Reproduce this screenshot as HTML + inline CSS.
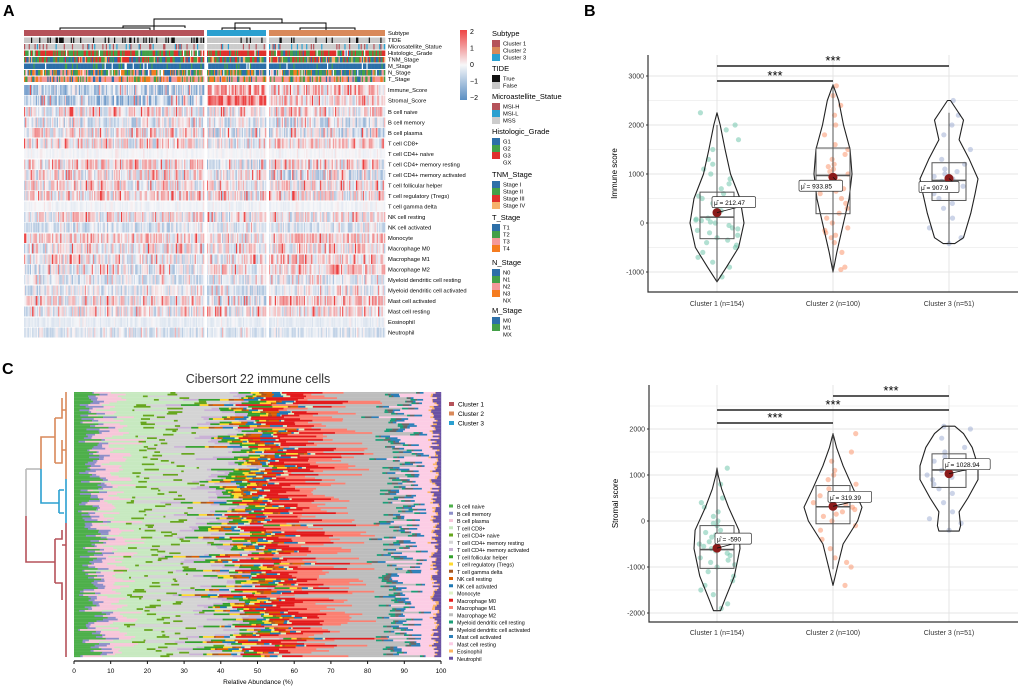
<!DOCTYPE html>
<html><head><meta charset="utf-8"><style>
body{margin:0;background:#fff}
svg{display:block;font-family:"Liberation Sans",Arial,sans-serif}
</style></head><body>
<svg id="fig" width="1020" height="686" viewBox="0 0 1020 686" xmlns="http://www.w3.org/2000/svg">
<text x="3" y="16" font-size="16" font-weight="bold">A</text>
<text x="584" y="16" font-size="16" font-weight="bold">B</text>
<text x="2" y="374" font-size="16" font-weight="bold">C</text>
<g id="pa"></g>
<g id="pb"></g>
<g id="pd"></g>
<g id="pc"></g>
</svg>
<script>
// ---------- DATA ----------
const clusterNames=["Cluster 1","Cluster 2","Cluster 3"];
const clusterN=[154,100,51];
const clusterColors=["#b5525a","#d9895a","#2ba0d0"];
const heatRows=["Immune_Score","Stromal_Score","B cell naive","B cell memory","B cell plasma","T cell CD8+","T cell CD4+ naive","T cell CD4+ memory resting","T cell CD4+ memory activated","T cell follicular helper","T cell regulatory (Tregs)","T cell gamma delta","NK cell resting","NK cell activated","Monocyte","Macrophage M0","Macrophage M1","Macrophage M2","Myeloid dendritic cell resting","Myeloid dendritic cell activated","Mast cell activated","Mast cell resting","Eosinophil","Neutrophil"];
const rowMeanC1=[-0.6,-0.8,0.1,-0.3,0.1,0,-0.05,0.3,0.1,0,0.2,-0.1,0.1,-0.4,0.3,0,0,-0.2,-0.3,-0.3,0.1,0,-0.2,-0.3];
const rowMeanC2=[0.3,0.2,0.2,-0.4,-0.3,0.3,-0.05,0.2,-0.3,0.1,0.1,-0.1,0,-0.3,0.3,0.1,0.2,0.3,-0.3,-0.2,0.5,0.1,-0.2,-0.3];
const rowMeanC3=[0.9,1.3,-0.1,-0.2,-0.2,-0.1,-0.05,-0.2,-0.2,0,-0.1,-0.1,-0.1,-0.3,0,0.1,0.1,0.1,-0.3,-0.4,-0.3,0,-0.2,-0.3];
const rowSpread=[0.9,0.9,0.9,0.7,0.9,0.8,0.12,0.9,0.9,0.8,0.9,0.12,0.8,0.5,0.8,0.8,0.8,0.8,0.6,0.6,0.8,0.8,0.15,0.4];
const colorbarTicks=[2,1,0,-1,-2];
const annoNames=["Subtype","TIDE","Microsatellite_Statue","Histologic_Grade","TNM_Stage","M_Stage","N_Stage","T_Stage"];
const tideLevels=["True","False"],tideColors=["#111111","#c8c8c8"];
const msiLevels=["MSI-H","MSI-L","MSS"],msiColors=["#b5525a","#2ba0d0","#cccccc"];
const gradeLevels=["G1","G2","G3","GX"],gradeColors=["#2d6fa8","#44a048","#e0302c","#ffffff"];
const tnmLevels=["Stage I","Stage II","Stage III","Stage IV"],tnmColors=["#2d6fa8","#44a048","#e0302c","#f6b26b"];
const tLevels=["T1","T2","T3","T4"],tColors=["#2d6fa8","#44a048","#f4999a","#f57c20"];
const nLevels=["N0","N1","N2","N3","NX"],nColors=["#2d6fa8","#44a048","#f4999a","#f57c20","#ffffff"];
const mLevels=["M0","M1","MX"],mColors=["#2d6fa8","#44a048","#ffffff"];
const tideProb=[[0.3,0.7],[0.15,0.85],[0.1,0.9]];
const msiProb=[[0.12,0.1,0.78],[0.12,0.1,0.78],[0.05,0.05,0.9]];
const gradeProb=[[0.05,0.5,0.4,0.05],[0.05,0.4,0.5,0.05],[0.02,0.2,0.75,0.03]];
const tnmProb=[[0.3,0.3,0.3,0.1],[0.3,0.3,0.3,0.1],[0.3,0.3,0.3,0.1]];
const mProb=[[0.85,0.1,0.05],[0.85,0.1,0.05],[0.85,0.1,0.05]];
const nProb=[[0.35,0.3,0.15,0.15,0.05],[0.35,0.3,0.15,0.15,0.05],[0.35,0.3,0.15,0.15,0.05]];
const tProb=[[0.1,0.2,0.5,0.2],[0.1,0.2,0.5,0.2],[0.05,0.15,0.6,0.2]];

// immune panel
const immQ1=[-320,190,460],immMed=[120,970,870],immQ3=[630,1530,1230];
const immWlo=[-1200,-1000,-420],immWhi=[2000,2820,2250];
const immMean=[212.47,933.85,907.9];
const immVioLevels=[[-1200,-900,-500,0,500,1000,1500,2000,2250],[-1000,-600,0,500,1000,1500,2000,2500,2820],[-420,-300,200,600,900,1300,1700,2100,2500]];
const immVioDens=[[0,0.35,0.8,1,0.85,0.5,0.3,0.12,0],[0,0.2,0.55,0.85,1,0.9,0.55,0.3,0],[0.2,0.5,0.75,0.9,1,0.7,0.35,0.5,0.05]];
const immVioMax=[27,19,29];
const immPts=[[-1100,-900,-800,-700,-600,-500,-450,-400,-300,-250,-200,-150,-100,-50,0,20,50,80,100,150,200,250,300,350,400,450,500,550,600,700,800,900,1000,1100,1200,1300,1500,1700,1900,2000,2250,-350,-120,60,180],[-950,-900,-600,-400,-300,-200,-150,-100,0,100,200,300,400,500,600,700,800,900,950,1000,1050,1100,1200,1300,1400,1500,1600,1800,2000,2200,2400,2600,2800,850,1150,650,-250],[-420,-300,-100,100,300,400,500,600,700,800,850,900,950,1000,1100,1200,1300,1500,1800,2000,2200,2500,750,1050]];
const immTicks=[-1000,0,1000,2000,3000];
// stromal panel
const strQ1=[-1030,-60,730],strMed=[-620,310,1110],strQ3=[-100,770,1460];
const strWlo=[-1950,-1050,-220],strWhi=[1150,1900,2060];
const strMean=[-590,319.39,1028.94];
const strVioLevels=[[-1950,-1700,-1200,-600,-200,300,700,1000,1150],[-1400,-1000,-500,0,300,700,1200,1600,1900],[-220,-100,200,500,900,1200,1600,1900,2060]];
const strVioDens=[[0.15,0.35,0.75,1,0.95,0.5,0.2,0.05,0],[0,0.15,0.35,0.85,1,0.7,0.35,0.12,0],[0.35,0.4,0.35,0.65,1,1,0.8,0.5,0.2]];
const strVioMax=[23,29,29];
const strPts=[[-1900,-1800,-1600,-1500,-1400,-1300,-1200,-1100,-1000,-950,-900,-800,-750,-700,-650,-600,-550,-500,-450,-400,-300,-200,-100,0,100,200,300,400,500,800,1150,-850,-350,-250,-50],[-1400,-1000,-900,-800,-600,-400,-200,-100,0,100,200,250,300,350,400,450,500,600,700,800,900,1000,1100,1300,1500,1900,150,550],[-200,-50,50,200,400,600,700,800,900,1000,1100,1200,1300,1400,1500,1600,1800,2000,2060,950,1250]];
const strTicks=[-2000,-1000,0,1000,2000];
// cibersort panel
const cellNames=heatRows.slice(2);
const cellColors=["#4daf4a","#8d8fc9","#f7c6d9","#c7e9c0","#66a61e","#d4d4d4","#cab2d6","#33a02c","#ffd92f","#a6561e","#d95f02","#1f78b4","#ddf1c4","#e31a1c","#fb8072","#bdbdbd","#1b9e77","#666666","#2c7fb8","#fccde5","#fdb462","#6a51a3"];
const cellMeanPct=[5,2,5,12,2,14,3,3,2,1,2,2,1,8,8,16,1,1,1.5,7,0.5,1.5];
const cRowsPerCluster=[70,50,32];
const cOrder=[1,2,0];
const xTicksC=[0,10,20,30,40,50,60,70,80,90,100];

// ---------- HELPERS ----------
const NS="http://www.w3.org/2000/svg";
function mk(parent,tag,attrs,text){const e=document.createElementNS(NS,tag);for(const k in attrs)e.setAttribute(k,attrs[k]);if(text!==undefined)e.textContent=text;parent.appendChild(e);return e;}
function hash(a,b){let h=(a*374761393+b*668265263)>>>0;h=((h^(h>>>13))*1274126177)>>>0;h=(h^(h>>>16))>>>0;return h/4294967296;}
function pick(probs,u){let s=0;for(let i=0;i<probs.length;i++){s+=probs[i];if(u<s)return i;}return probs.length-1;}
function lerp(a,b,t){return Math.round(a+(b-a)*t);}
function valColor(v){v=Math.max(-2,Math.min(2,v));let c0=[247,247,249];let c1=v>=0?[236,64,64]:[78,132,190];let t=Math.abs(v)/2;return `rgb(${lerp(c0[0],c1[0],t)},${lerp(c0[1],c1[1],t)},${lerp(c0[2],c1[2],t)})`;}

// ---------- PANEL A ----------
const pa=document.getElementById('pa');
const blocks=[{cl:0,x:24,w:180},{cl:2,x:207,w:59},{cl:1,x:269,w:116}];
const rowMeans=[rowMeanC1,rowMeanC2,rowMeanC3];
const dg=mk(pa,'g',{stroke:'#000','stroke-width':1,fill:'none'});


mk(dg,'path',{d:'M154,30 V19 H282 V23 M235,30 V23 H326 V30 M60,30 V28 H150 V30 M123,28 V26 H185 V28 M222,30 V28 H250 V30 M300,30 V28 H355 V30'});
const annoY=[30,37.5,44,50.5,57,63.5,70,76.5],annoH=[6,5.5,5.5,5.5,5.5,5.5,5.5,5.5];
const annoDefs=[null,[tideProb,tideColors],[msiProb,msiColors],[gradeProb,gradeColors],[tnmProb,tnmColors],[mProb,mColors],[nProb,nColors],[tProb,tColors]];
blocks.forEach(b=>{
  const n=clusterN[b.cl],cw=b.w/n;
  const st=mk(pa,'rect',{x:b.x,y:annoY[0],width:b.w,height:annoH[0],fill:clusterColors[b.cl]});
  
  
  for(let r=1;r<8;r++){
    const [pr,cols]=annoDefs[r];
    for(let c=0;c<n;c++){
      const k=pick(pr[b.cl],hash(c+b.cl*1000,r*31));
      mk(pa,'rect',{x:(b.x+c*cw).toFixed(2),y:annoY[r],width:(cw+0.3).toFixed(2),height:annoH[r],fill:cols[k]});
    }
  }
  for(let r=0;r<heatRows.length;r++){
    let y,h;
    if(r<2){y=85+r*10.5;h=10;}else{y=107+(r-2)*10.5;h=10;}
    for(let c=0;c<n;c++){
      const u=hash(c+b.cl*1000,r*97+5),u2=hash(c*7+b.cl*333,r*13+1);
      let v=rowMeans[b.cl][r]+rowSpread[r]*(u-0.5)*2.2;
      if(u2>0.9)v+=1.4*rowSpread[r]*1.2;
      mk(pa,'rect',{x:(b.x+c*cw).toFixed(2),y:y,width:(cw+0.3).toFixed(2),height:h,fill:valColor(v)});
    }
  }
});
[106,117,138,159,201,233,254,285,306,317].forEach(y=>mk(pa,'rect',{x:24,y:y-0.5,width:362,height:1,fill:'#fff'}));
annoNames.forEach((nm,i)=>{const t=mk(pa,'text',{x:388,y:annoY[i]+annoH[i]-0.8,'font-size':5.8},nm);

});
heatRows.forEach((nm,r)=>{const y=r<2?90+r*10.5:112+(r-2)*10.5;const t=mk(pa,'text',{x:388,y:y+2,'font-size':5.8},nm);

});
const defs=mk(document.getElementById('fig'),'defs',{});
const lg=mk(defs,'linearGradient',{id:'cb',x1:0,y1:0,x2:0,y2:1});
[[0,'#ee4444'],[0.5,'#f7f7f9'],[1,'#5b8fc3']].forEach(s=>mk(lg,'stop',{offset:s[0],'stop-color':s[1]}));
const cbar=mk(pa,'rect',{x:460,y:30,width:7,height:70,fill:'url(#cb)'});


colorbarTicks.forEach(v=>{const t=mk(pa,'text',{x:470,y:65-v*16.5+2,'font-size':7},v<0?'\u2212'+(-v):String(v));

});
const legends=[["Subtype",33,clusterNames,["#b5525a","#d9895a","#2ba0d0"]],["TIDE",68,tideLevels,tideColors],["Microastellite_Statue",96,msiLevels,msiColors],["Histologic_Grade",131,gradeLevels,gradeColors],["TNM_Stage",174,tnmLevels,tnmColors],["T_Stage",217,tLevels,tColors],["N_Stage",262,nLevels,nColors],["M_Stage",310,mLevels,mColors]];
legends.forEach(L=>{
  const g=mk(pa,'g',{});
  
  
  mk(g,'text',{x:492,y:L[1]+3,'font-size':7.5},L[0]);
  L[2].forEach((lv,i)=>{const y=L[1]+7+i*7;mk(g,'rect',{x:492,y:y,width:8,height:7,fill:L[3][i]});mk(g,'text',{x:503,y:y+5.5,'font-size':5.8},lv);});
});

// ---------- VIOLIN PANELS ----------
const ptCol=["rgba(102,194,165,0.5)","rgba(252,141,98,0.5)","rgba(141,160,203,0.45)"];
function violinPanel(g,cfg){
  const {x0,x1,yTop,yBot,y0,k,ticks,title,Q1,Med,Q3,Wlo,Whi,Mean,VL,VD,VM,Pts,brackets}=cfg;
  const yv=v=>y0-v*k;
  const cx=[717,833,949];
  for(let v=ticks[0]-500;v<=ticks[ticks.length-1]+500;v+=500){const y=yv(v);if(y<yTop||y>yBot)continue;
    mk(g,'line',{x1:x0,x2:x1,y1:y,y2:y,stroke:'#e4e4e4','stroke-width':v%1000===0?1:0.6});}
  cx.forEach(x=>mk(g,'line',{x1:x,x2:x,y1:yTop,y2:yBot,stroke:'#e4e4e4','stroke-width':1}));
  mk(g,'path',{d:`M${x0},${yTop} V${yBot} H${x1}`,stroke:'#333','stroke-width':1.2,fill:'none'});
  ticks.forEach(v=>{const t=mk(g,'text',{x:x0-4,y:yv(v)+2.5,'font-size':7,'text-anchor':'end',fill:'#333'},v<0?'-'+(-v):String(v));
    
    
    mk(g,'line',{x1:x0-2,x2:x0,y1:yv(v),y2:yv(v),stroke:'#333'});});
  const yt=mk(g,'text',{x:0,y:0,'font-size':8,'text-anchor':'middle',transform:`translate(${x0-31},${(yTop+yBot)/2}) rotate(-90)`},title);
  
  
  for(let c=0;c<3;c++){
    Pts[c].forEach((v,i)=>{const off=((hash(i,c+7)-0.5)*2)*VM[c]*0.8;
      mk(g,'circle',{cx:cx[c]+off,cy:yv(v),r:2.6,fill:ptCol[c]});});
    let d='';VL[c].forEach((v,i)=>{d+=(i?'L':'M')+(cx[c]+VD[c][i]*VM[c]).toFixed(1)+','+yv(v).toFixed(1);});
    for(let i=VL[c].length-1;i>=0;i--)d+='L'+(cx[c]-VD[c][i]*VM[c]).toFixed(1)+','+yv(VL[c][i]).toFixed(1);
    const vp=mk(g,'path',{d:d+'Z',fill:'none',stroke:'#222','stroke-width':1.1,'stroke-linejoin':'round'});
    
    
    mk(g,'line',{x1:cx[c],x2:cx[c],y1:yv(Wlo[c]),y2:yv(Whi[c]),stroke:'#555','stroke-width':1});
    const bx=mk(g,'rect',{x:cx[c]-17,y:yv(Q3[c]),width:34,height:yv(Q1[c])-yv(Q3[c]),fill:'none',stroke:'#555','stroke-width':1});
    
    
    mk(g,'line',{x1:cx[c]-17,x2:cx[c]+17,y1:yv(Med[c]),y2:yv(Med[c]),stroke:'#555','stroke-width':1.6});
    const md=mk(g,'circle',{cx:cx[c],cy:yv(Mean[c]),r:4.5,fill:'#8b1a1a'});
    
    
    const lab='\u03BC\u0302 = '+Mean[c];
    const lw=lab.length*3.6+4,lx=cfg.labDx[c]+cx[c],ly=yv(Mean[c])+cfg.labDy[c];
    mk(g,'line',{x1:cx[c],y1:yv(Mean[c]),x2:lx+(cfg.labDx[c]<0?lw:0),y2:ly,stroke:'#111','stroke-width':0.8});
    mk(g,'rect',{x:lx,y:ly-6,width:lw,height:11,rx:1.5,fill:'#fff',stroke:'#333','stroke-width':0.7});
    mk(g,'text',{x:lx+2,y:ly+2.5,'font-size':6.5},lab);
    const xl=mk(g,'text',{x:cx[c],y:cfg.xLabY,'font-size':7,'text-anchor':'middle',fill:'#333'},`${clusterNames[c]} (n=${clusterN[c]})`);
    
    
  }
  brackets.forEach(b=>{
    const br=mk(g,'line',{x1:cx[b[0]],x2:cx[b[1]],y1:b[2],y2:b[2],stroke:'#222','stroke-width':1.5});
    
    
    mk(g,'text',{x:(cx[b[0]]+cx[b[1]])/2,y:b[2]-1,'font-size':13,'text-anchor':'middle'},'***');
  });
}
violinPanel(document.getElementById('pb'),{x0:648,x1:1018,yTop:55,yBot:292,y0:223,k:0.049,ticks:immTicks,title:'Immune score',
  Q1:immQ1,Med:immMed,Q3:immQ3,Wlo:immWlo,Whi:immWhi,Mean:immMean,VL:immVioLevels,VD:immVioDens,VM:immVioMax,Pts:immPts,
  brackets:[[0,1,81],[0,2,66]],labDx:[-5,-34,-30],labDy:[-10,9,9],xLabY:306});
violinPanel(document.getElementById('pd'),{x0:649,x1:1018,yTop:385,yBot:622,y0:521,k:0.046,ticks:strTicks,title:'Stromal score',
  Q1:strQ1,Med:strMed,Q3:strQ3,Wlo:strWlo,Whi:strWhi,Mean:strMean,VL:strVioLevels,VD:strVioDens,VM:strVioMax,Pts:strPts,
  brackets:[[0,1,423],[0,2,410],[1,2,396]],labDx:[-2,-5,-6],labDy:[-9,-9,-9],xLabY:635});

// ---------- PANEL C ----------
const pc=document.getElementById('pc');
const cx0=74,cx1=441,cyT=392,cyB=657;
const xc=p=>cx0+(cx1-cx0)*p/100;
const ttl=mk(pc,'text',{x:258,y:383,'font-size':12.5,'text-anchor':'middle',fill:'#333'},'Cibersort 22 immune cells');


const totalRows=cRowsPerCluster.reduce((a,b)=>a+b,0),rh=(cyB-cyT)/totalRows;
let ri=0;
cOrder.forEach(cl=>{
  for(let j=0;j<cRowsPerCluster[cl];j++,ri++){
    const w=cellMeanPct.map((m,k)=>m*(0.25+1.5*hash(ri*3+1,k*11+cl)));
    const s=w.reduce((a,b)=>a+b,0);let acc=0;
    w.forEach((v,k)=>{const p=v/s*100;mk(pc,'rect',{x:xc(acc).toFixed(2),y:(cyT+ri*rh).toFixed(2),width:(xc(acc+p)-xc(acc)+0.2).toFixed(2),height:(rh+0.15).toFixed(2),fill:cellColors[k]});acc+=p;});
  }
});
mk(pc,'line',{x1:cx0,x2:cx1,y1:661,y2:661,stroke:'#111','stroke-width':1.3});
xTicksC.forEach(v=>{mk(pc,'line',{x1:xc(v),x2:xc(v),y1:661,y2:664,stroke:'#111'});
  const t=mk(pc,'text',{x:xc(v),y:673,'font-size':6.5,'text-anchor':'middle'},String(v));
  
  });
const xt=mk(pc,'text',{x:258,y:684,'font-size':6.5,'text-anchor':'middle'},'Relative Abundance (%)');


const dc=mk(pc,'g',{fill:'none','stroke-width':1.6});


mk(dc,'path',{d:'M26,469 V516',stroke:'#bbb'});
mk(dc,'path',{d:'M26,469 H41',stroke:'#bbb'});
mk(dc,'path',{d:'M66,392 V479 M41,469 V437 H55 M55,418 V463 M55,418 H62 V398 M62,410 H66 M55,463 H62 V440 M62,450 H66',stroke:'#d9895a'});
mk(dc,'path',{d:'M66,479 V523 M41,469 V503 H59 M59,490 V513 M59,490 H64 M59,513 H64',stroke:'#2ba0d0'});
mk(dc,'path',{d:'M26,516 V562 H55 M55,539 V583 M55,539 H62 V530 M55,583 H62 V600 M62,545 H66 M66,523 V657',stroke:'#b5525a'});
clusterNames.forEach((n,i)=>{const y=405+i*9.5;mk(pc,'rect',{x:449,y:y-3,width:5,height:4,fill:clusterColors[i]});
  const t=mk(pc,'text',{x:458,y:y+1.5,'font-size':6.5},n);
  
  });
cellNames.forEach((n,i)=>{const y=507+i*7.25;mk(pc,'rect',{x:449,y:y-2.5,width:4,height:3,fill:cellColors[i]});
  const t=mk(pc,'text',{x:457,y:y+1.5,'font-size':5.4},n);
  
  });
</script>
</body></html>
